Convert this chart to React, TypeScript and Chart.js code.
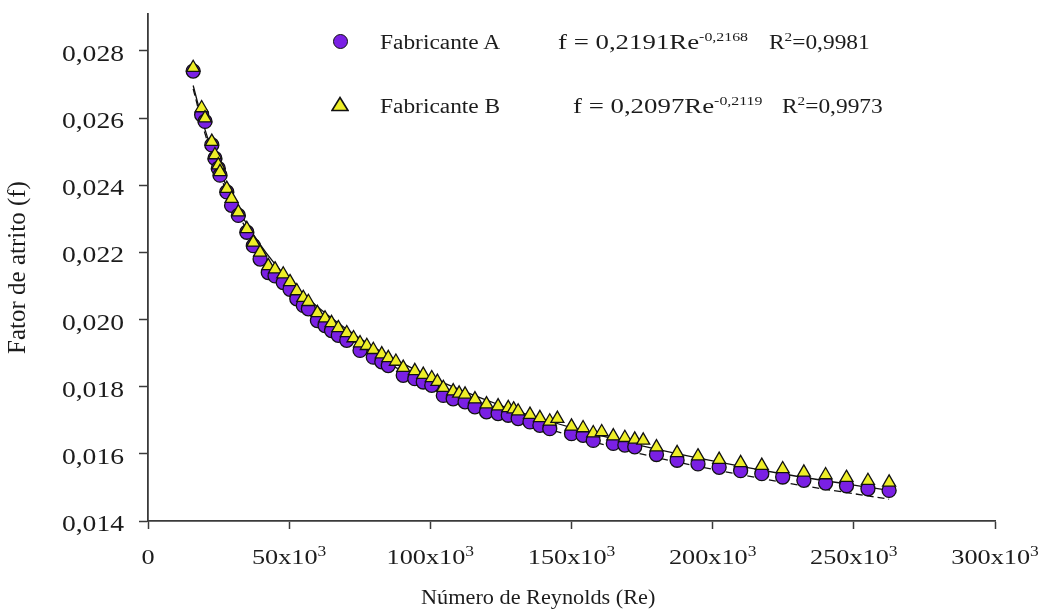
import React, { useEffect, useRef } from "react";
import { Chart, registerables } from "chart.js";

Chart.register(...registerables);

// Fabricante A (circles)
const reA = [
  16000, 19000, 20200, 22600, 23700, 24900, 25500, 27900, 29600, 32000,
  35000, 37300, 39700, 42600, 45000, 47900, 50300, 52700, 55000, 56800,
  60000, 62700, 65000, 67400, 70400, 75100, 79800, 82800, 85100, 90400,
  94500, 97500, 100500, 104600, 108100, 112300, 115800, 119900, 124000, 127600,
  131100, 135300, 138800, 142300, 150000, 154100, 157700, 164800, 168900, 172400,
  180100, 187400, 194800, 202300, 209900, 217400, 224800, 232300, 240000, 247400,
  255000, 262500,
];
const fA = [
  0.0274, 0.0261, 0.0259, 0.0252, 0.0248, 0.0245, 0.0243, 0.0238, 0.0234, 0.0231,
  0.0226, 0.0222, 0.0218, 0.0214, 0.0213, 0.0211, 0.0209, 0.02062, 0.02042, 0.02032,
  0.01997, 0.01982, 0.01967, 0.01953, 0.01938, 0.01908, 0.01888, 0.01874, 0.01863, 0.01834,
  0.01824, 0.01814, 0.01804, 0.01774, 0.01764, 0.01755, 0.0174, 0.01725, 0.0172, 0.01715,
  0.01705, 0.01695, 0.01685, 0.01675, 0.0166, 0.01655, 0.0164, 0.01631, 0.01626, 0.01621,
  0.01598, 0.01581, 0.0157, 0.0156, 0.0155, 0.01541, 0.01531, 0.01521, 0.01513, 0.01505,
  0.01496, 0.01491,
];

// Fabricante B (triangles)
const reB = [
  16000, 19000, 20200, 22600, 23700, 24900, 25500, 27900, 29600, 32000,
  35000, 37300, 39700, 42600, 45000, 47900, 50300, 52700, 55000, 56800,
  60000, 62700, 65000, 67400, 70400, 72800, 75100, 77500, 79800, 82800,
  85100, 87800, 90400, 94500, 97500, 100500, 102500, 104600, 108100, 110200,
  112300, 115800, 119900, 124000, 127600, 129500, 131100, 135300, 138800, 142300,
  145000, 150000, 154100, 157700, 160700, 164800, 168900, 172400, 175400, 180100,
  187400, 194800, 202300, 209900, 217400, 224800, 232300, 240000, 247400, 255000,
  262500,
];
const fB = [
  0.0275, 0.0263, 0.026, 0.0253, 0.0249, 0.0246, 0.0244, 0.0239, 0.0236, 0.0232,
  0.0227, 0.0223, 0.022, 0.0216, 0.0215, 0.02135, 0.02112, 0.02085, 0.02065, 0.02053,
  0.0202, 0.02004, 0.0199, 0.01975, 0.0196, 0.01945, 0.0193, 0.01922, 0.0191, 0.01897,
  0.01886, 0.01875, 0.01857, 0.01847, 0.01836, 0.01826, 0.01815, 0.01797, 0.01787, 0.0178,
  0.01777, 0.01763, 0.01748, 0.01742, 0.01737, 0.01733, 0.01727, 0.01717, 0.01707, 0.01697,
  0.01705, 0.01682, 0.01677, 0.01662, 0.01665, 0.01653, 0.01648, 0.01643, 0.0164, 0.0162,
  0.01603, 0.01593, 0.01583, 0.01573, 0.01565, 0.01555, 0.01545, 0.01537, 0.01529, 0.0152,
  0.01515,
];

// Power-law fit curves
const trendRe = [16000, 20000, 25000, 30000, 40000, 50000, 60000, 80000, 100000, 125000, 150000, 175000, 200000, 225000, 262500];
const trendA = [0.02687, 0.02559, 0.02439, 0.02344, 0.02203, 0.02098, 0.02017, 0.01895, 0.01806, 0.0172, 0.01654, 0.01599, 0.01554, 0.01515, 0.01465];
const trendB = [0.02697, 0.02571, 0.02453, 0.02359, 0.0222, 0.02117, 0.02038, 0.01917, 0.01829, 0.01744, 0.01678, 0.01624, 0.01579, 0.0154, 0.01491];

const xTicks = [0, 50000, 100000, 150000, 200000, 250000, 300000];
const yTicks = [0.014, 0.016, 0.018, 0.02, 0.022, 0.024, 0.026, 0.028];

const SERIF = "'Liberation Serif', 'Times New Roman', serif";
const PURPLE = "rgb(122, 32, 228)";
const YELLOW = "rgb(238, 238, 40)";
const AXIS = "#3a3a3a";
const INK = "#1c1c1c";

const pts = (xs: number[], ys: number[]) => xs.map((x, i) => ({ x, y: ys[i] }));

// Draws the (horizontally widened) tick labels, with the superscript 3.
const tickLabelPlugin = {
  id: "tickLabels",
  afterDraw(chart: any) {
    const { ctx } = chart;
    const xs = chart.scales.x;
    const ys = chart.scales.y;
    ctx.save();
    ctx.fillStyle = INK;
    ctx.textBaseline = "alphabetic";
    ctx.textAlign = "left";
    const SXX = 1.25;
    xTicks.forEach((v) => {
      const px = xs.getPixelForValue(v);
      const base = v === 0 ? "0" : `${v / 1000}x10`;
      const sup = v === 0 ? "" : "3";
      ctx.font = `21px ${SERIF}`;
      const wb = ctx.measureText(base).width;
      ctx.font = `14px ${SERIF}`;
      const ws = sup ? ctx.measureText(sup).width : 0;
      const total = (wb + ws) * SXX;
      ctx.save();
      ctx.translate(px - total / 2, 564);
      ctx.scale(SXX, 1);
      ctx.font = `21px ${SERIF}`;
      ctx.fillText(base, 0, 0);
      if (sup) {
        ctx.font = `14px ${SERIF}`;
        ctx.fillText(sup, wb, -8);
      }
      ctx.restore();
    });
    const SXY = 1.2;
    yTicks.forEach((v) => {
      const py = ys.getPixelForValue(v);
      const label = v.toFixed(3).replace(".", ",");
      ctx.font = `23px ${SERIF}`;
      const w = ctx.measureText(label).width * SXY;
      ctx.save();
      ctx.translate(124 - w, py + 10);
      ctx.scale(SXY, 1);
      ctx.fillText(label, 0, 0);
      ctx.restore();
    });
    ctx.restore();
  },
};

const textBase: React.CSSProperties = {
  position: "absolute",
  fontFamily: SERIF,
  fontSize: 20,
  lineHeight: "20px",
  color: INK,
  whiteSpace: "nowrap",
  transform: "scaleX(1.17)",
  transformOrigin: "left center",
};
const eqStyle: React.CSSProperties = {
  ...textBase,
  fontSize: 22,
  lineHeight: "22px",
  transform: "scaleX(1.22)",
};
const supStyle: React.CSSProperties = { fontSize: 13, verticalAlign: "8px", lineHeight: 0 };

export default function App() {
  const canvasRef = useRef<HTMLCanvasElement | null>(null);

  useEffect(() => {
    if (!canvasRef.current) return;
    const chart = new Chart(canvasRef.current, {
      type: "scatter",
      data: {
        datasets: [
          {
            label: "Fabricante B",
            data: pts(reB, fB),
            pointStyle: "triangle",
            pointRadius: 7.5,
            backgroundColor: YELLOW,
            borderColor: "#111",
            borderWidth: 1.3,
            order: 0,
          },
          {
            label: "Fabricante A",
            data: pts(reA, fA),
            pointStyle: "circle",
            pointRadius: 7,
            backgroundColor: PURPLE,
            borderColor: "#111",
            borderWidth: 1.3,
            order: 1,
          },
          {
            label: "Ajuste B",
            data: pts(trendRe, trendB),
            showLine: true,
            pointRadius: 0,
            borderColor: "#111",
            borderWidth: 1.3,
            cubicInterpolationMode: "monotone",
            order: 2,
          },
          {
            label: "Ajuste A",
            data: pts(trendRe, trendA),
            showLine: true,
            pointRadius: 0,
            borderColor: "#111",
            borderWidth: 1.3,
            borderDash: [7, 4],
            cubicInterpolationMode: "monotone",
            order: 3,
          },
        ],
      },
      options: {
        responsive: false,
        animation: false,
        layout: { padding: { left: 0, right: 52, top: 14, bottom: 0 } },
        plugins: { legend: { display: false }, tooltip: { enabled: false }, title: { display: false } },
        scales: {
          x: {
            type: "linear",
            min: 0,
            max: 300000,
            afterBuildTicks: (s: any) => {
              s.ticks = xTicks.map((v) => ({ value: v }));
            },
            afterFit: (s: any) => {
              s.height = 94;
            },
            grid: { display: true, drawOnChartArea: false, drawTicks: true, tickLength: 8, tickColor: AXIS, tickWidth: 1.5 },
            border: { display: true, color: AXIS, width: 1.8 },
            ticks: { display: false },
          },
          y: {
            type: "linear",
            min: 0.014,
            max: 0.0291,
            afterBuildTicks: (s: any) => {
              s.ticks = yTicks.map((v) => ({ value: v }));
            },
            afterFit: (s: any) => {
              s.width = 148;
            },
            grid: { display: true, drawOnChartArea: false, drawTicks: true, tickLength: 9, tickColor: AXIS, tickWidth: 1.5 },
            border: { display: true, color: AXIS, width: 1.8 },
            ticks: { display: false },
            title: {
              display: true,
              text: "Fator de atrito (f)",
              color: INK,
              font: { family: SERIF, size: 25 },
              padding: { top: 3, bottom: 0 },
            },
          },
        },
      },
      plugins: [tickLabelPlugin],
    } as any);
    return () => chart.destroy();
  }, []);

  return (
    <div style={{ position: "fixed", left: 0, top: 0, width: 1047, height: 615, background: "#fff", overflow: "hidden" }}>
      <canvas ref={canvasRef} width={1047} height={615} style={{ position: "absolute", left: 0, top: 0, width: 1047, height: 615 }} />
      {/* legend row A */}
      <div
        style={{
          position: "absolute",
          left: 333,
          top: 34,
          width: 13,
          height: 13,
          borderRadius: "50%",
          background: PURPLE,
          border: "1px solid #111",
        }}
      />
      <div style={{ ...textBase, left: 380, top: 32 }}>Fabricante A</div>
      <div style={{ ...eqStyle, left: 558, top: 31 }}>
        f = 0,2191Re<sup style={supStyle}>-0,2168</sup>
      </div>
      <div style={{ ...textBase, left: 769, top: 32 }}>
        R<sup style={supStyle}>2</sup>=0,9981
      </div>
      {/* legend row B */}
      <svg style={{ position: "absolute", left: 331, top: 96 }} width={18} height={16}>
        <polygon points="9,1.5 17,14.5 1,14.5" fill={YELLOW} stroke="#111" strokeWidth={1.6} />
      </svg>
      <div style={{ ...textBase, left: 380, top: 96 }}>Fabricante B</div>
      <div style={{ ...eqStyle, left: 573, top: 95 }}>
        f = 0,2097Re<sup style={supStyle}>-0,2119</sup>
      </div>
      <div style={{ ...textBase, left: 782, top: 96 }}>
        R<sup style={supStyle}>2</sup>=0,9973
      </div>
      {/* x axis title */}
      <div style={{ ...textBase, fontSize: 21, transform: "scaleX(1.06)", left: 421, top: 587 }}>Número de Reynolds (Re)</div>
    </div>
  );
}
